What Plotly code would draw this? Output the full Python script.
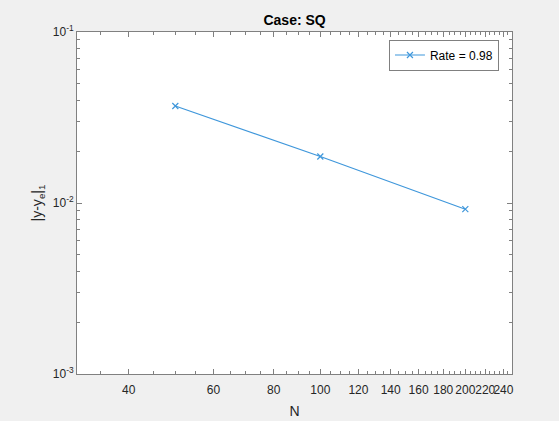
import plotly.graph_objects as go

# data
N = [50, 100, 200]
err = [0.0369, 0.0187, 0.0092]
rate_label = "Rate = 0.98"

x_ticks = [40, 60, 80, 100, 120, 140, 160, 180, 200, 220, 240]
x_minor = [v for v in range(35, 250, 5) if v not in x_ticks]
y_ticks = [1e-3, 1e-2, 1e-1]
y_ticktext = ["10<sup>-3</sup>", "10<sup>-2</sup>", "10<sup>-1</sup>"]
y_minor = [m * 10.0 ** e for e in (-3, -2) for m in range(2, 10)]

axis_col = "#808080"
txt_col = "#262626"
line_col = "#3f97db"
font = "Liberation Sans, Arial, sans-serif"

fig = go.Figure()
fig.add_trace(go.Scatter(
    x=N, y=err, mode="lines+markers", name=rate_label,
    line=dict(color=line_col, width=1.2),
    marker=dict(symbol="x-thin", size=6, line=dict(color=line_col, width=1.2)),
))

common = dict(
    showgrid=False, zeroline=False, showline=True, linecolor=axis_col, linewidth=1,
    mirror="allticks", ticks="inside", ticklen=5, tickcolor=axis_col, tickangle=0,
    automargin=False,
    tickfont=dict(family=font, size=12, color=txt_col),
)

fig.update_layout(
    width=559, height=421,
    paper_bgcolor="#f0f0f0", plot_bgcolor="white",
    margin=dict(l=77, r=47, t=32, b=47),
    font=dict(family=font, color=txt_col),
    title=dict(text="<b>Case: SQ</b>", x=0.527, xanchor="center", y=0.953, yanchor="middle",
               font=dict(family=font, size=14, color="black")),
    xaxis=dict(type="log", range=[1.49485, 2.39794],
               tickmode="array", tickvals=x_ticks, ticktext=[str(v) for v in x_ticks],
               ticklabelstandoff=5,
               minor=dict(tickmode="array", tickvals=x_minor, ticks="inside", ticklen=3, tickcolor=axis_col),
               title=dict(text="N", standoff=9, font=dict(family=font, size=14, color=txt_col)),
               **common),
    yaxis=dict(type="log", range=[-3, -1],
               tickmode="array", tickvals=y_ticks, ticktext=y_ticktext,
               minor=dict(tickmode="array", tickvals=y_minor, ticks="inside", ticklen=3, tickcolor=axis_col),
               title=dict(text="|y-y<sub>e</sub>|<sub>1</sub>", standoff=6,
                          font=dict(family=font, size=14, color=txt_col)),
               **common),
    showlegend=True,
    legend=dict(x=0.970, xanchor="right", y=0.978, yanchor="top",
                bgcolor="white", bordercolor=axis_col, borderwidth=1,
                font=dict(family=font, size=12, color="black"),
                itemwidth=30, tracegroupgap=0),
)

fig.write_html("out.html", config={"displayModeBar": False},
               post_script="document.body.style.margin='0';")
